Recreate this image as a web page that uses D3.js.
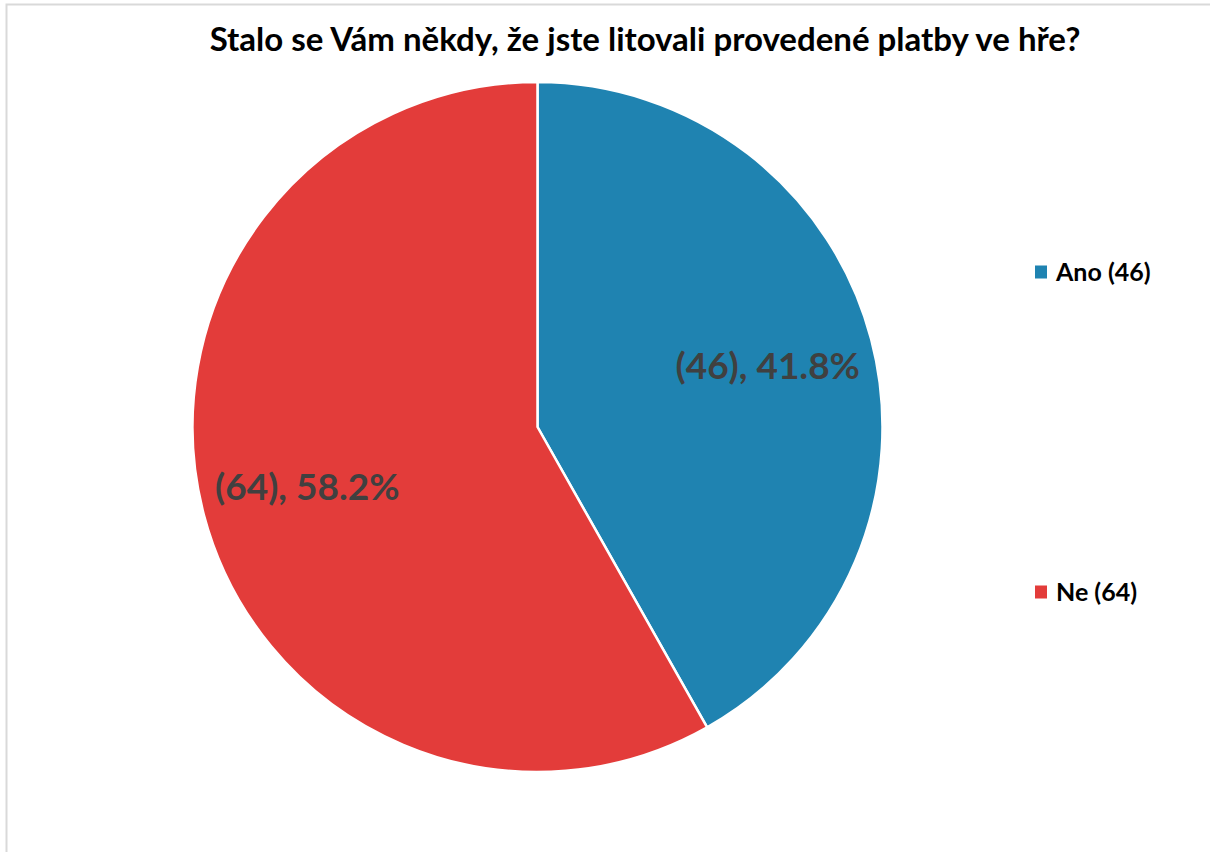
<!DOCTYPE html>
<html>
<head>
<meta charset="utf-8">
<script src="https://cdn.jsdelivr.net/npm/d3@7"></script>
<style>
  html, body { margin: 0; padding: 0; background: #fff; }
  svg { display: block; }
</style>
</head>
<body>
<svg id="chart" width="1210" height="852"></svg>
<script>
// Survey answers: "Did you ever regret a payment made in a game?"
const categories = ["Ano", "Ne"];
const counts = [46, 64];
const colors = ["#1F83B1", "#E33C3A"];
const title = "Stalo se Vám někdy, že jste litovali provedené platby ve hře?";

const svg = d3.select("#chart");
const W = 1210, H = 852;
const font = "Lato, 'Open Sans', sans-serif";

// chart area frame
svg.append("rect")
  .attr("x", 6.5).attr("y", 4.5)
  .attr("width", W + 10).attr("height", H + 10)
  .attr("fill", "#fff")
  .attr("stroke", "#d9d9d9").attr("stroke-width", 2);

svg.append("text")
  .attr("x", 645).attr("y", 51)
  .attr("text-anchor", "middle")
  .attr("font-family", font).attr("font-weight", 700)
  .attr("font-size", 33)
  .attr("fill", "#000")
  .text(title);

const cx = 537.5, cy = 427, r = 345;
const total = d3.sum(counts);
const data = categories.map((c, i) => ({ cat: c, value: counts[i], color: colors[i] }));

const pie = d3.pie().value(d => d.value).sort(null);
const arc = d3.arc().innerRadius(0).outerRadius(r);
const labelArc = d3.arc().innerRadius(r * 0.69).outerRadius(r * 0.69);

const g = svg.append("g").attr("transform", `translate(${cx},${cy})`);
const arcs = pie(data);

g.selectAll("path")
  .data(arcs)
  .join("path")
  .attr("d", arc)
  .attr("fill", d => d.data.color)
  .attr("stroke", "#fff")
  .attr("stroke-width", 2.5)
  .attr("stroke-linejoin", "round");

const fmt = d3.format(".1%");
g.selectAll("text.lbl")
  .data(arcs)
  .join("text")
  .attr("class", "lbl")
  .attr("transform", d => {
    const [x, y] = labelArc.centroid(d);
    return `translate(${x},${y})`;
  })
  .attr("text-anchor", "middle")
  .attr("dy", "0.35em")
  .attr("font-family", font).attr("font-weight", 700)
  .attr("font-size", 37)
  .attr("fill", "#404040")
  .text(d => `(${d.data.value}), ${fmt(d.data.value / total)}`);

// legend
const legendY = [272, 592];
const lg = svg.append("g");
data.forEach((d, i) => {
  lg.append("rect")
    .attr("x", 1035).attr("y", legendY[i] - 6.5)
    .attr("width", 12).attr("height", 13)
    .attr("fill", d.color);
  lg.append("text")
    .attr("x", 1056).attr("y", legendY[i])
    .attr("dy", "0.35em")
    .attr("font-family", font).attr("font-weight", 700)
    .attr("font-size", 25)
    .attr("fill", "#000")
    .text(`${d.cat} (${d.value})`);
});
</script>
</body>
</html>
